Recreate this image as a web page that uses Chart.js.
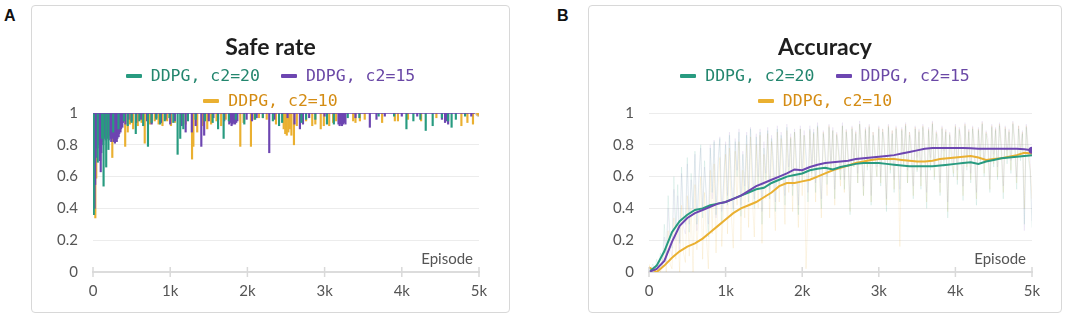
<!DOCTYPE html>
<html>
<head>
<meta charset="utf-8">
<script src="https://cdn.jsdelivr.net/npm/chart.js@4.4.0/dist/chart.umd.min.js"></script>
<style>
  body { margin: 0; background: #fff; width: 1084px; height: 319px; position: relative; overflow: hidden; font-family: Lato, sans-serif; }
  .letter { position: absolute; font: bold 16px "Liberation Sans", Arial, sans-serif; color: #111; }
  .box { position: absolute; top: 5px; height: 308px; border: 1px solid #d8d8d8; border-radius: 4px; box-sizing: border-box; }
  .wrap { position: absolute; top: 5px; height: 308px; }
  .title { position: absolute; left: 0; right: 0; top: 28px; text-align: center; font: bold 23px Lato, sans-serif; line-height: 27px; color: #1e1e1e; }
  .legend { position: absolute; left: 0; right: 0; top: 58px; margin: 0 auto; max-width: 310px; display: flex; flex-wrap: wrap; justify-content: center; column-gap: 21px; }
  .item { display: flex; align-items: center; height: 25px; font: 16.5px "DejaVu Sans Mono", monospace; white-space: pre; }
  .mark { width: 16px; height: 4px; border-radius: 1px; margin-right: 9px; }
</style>
</head>
<body>
<div class="letter" style="left:4px;top:7px">A</div>
<div class="letter" style="left:557px;top:7px">B</div>
<div class="box" style="left:31px;width:479px"></div>
<div class="box" style="left:588px;width:474px"></div>
<div class="wrap" style="left:31px;width:479px"><canvas id="safe"></canvas></div>
<div class="wrap" style="left:588px;width:474px"><canvas id="acc"></canvas></div>
<div class="wrap" style="left:31px;width:479px;pointer-events:none"><div class="title">Safe rate</div><div class="legend" id="legA"></div></div>
<div class="wrap" style="left:588px;width:474px;pointer-events:none"><div class="title">Accuracy</div><div class="legend" id="legB"></div></div>
<script>
// series names and colours
const seriesNames = ['DDPG, c2=20', 'DDPG, c2=15', 'DDPG, c2=10'];
const lineColors = ['#289b80', '#6d46b1', '#eab031'];
const textColors = ['#23866e', '#6a48a6', '#d48c14'];
const rawColors = ['rgba(40,155,128,0.10)', 'rgba(109,70,177,0.08)', 'rgba(234,176,49,0.12)'];

const xTickLabels = ['0', '1k', '2k', '3k', '4k', '5k'];
const yTickLabels = ['0', '0.2', '0.4', '0.6', '0.8', '1'];

// ---- Safe rate: episodes where the rate dropped below 1, and how far ----
const safeEpGreen = [10, 62, 118, 137, 171, 200, 262, 330, 400, 450, 500, 554, 600, 650, 712, 760, 820, 870, 930, 990, 1040, 1096, 1130, 1170, 1230, 1330, 1450, 1550, 1620, 1692, 1760, 1850, 1960, 2100, 2200, 2330, 2410, 2450, 2700, 2760, 2880, 3030, 3120, 3300, 3450, 3700, 3900, 4060, 4150, 4240, 4310, 4400, 4520, 4600, 4645, 4700, 4820];
const safeValGreen = [0.36, 0.69, 0.84, 0.54, 0.66, 0.77, 0.88, 0.90, 0.95, 0.92, 0.94, 0.87, 0.95, 0.92, 0.79, 0.94, 0.96, 0.93, 0.95, 0.97, 0.94, 0.74, 0.84, 0.90, 0.95, 0.96, 0.95, 0.94, 0.90, 0.84, 0.95, 0.96, 0.93, 0.96, 0.97, 0.95, 0.92, 0.94, 0.94, 0.96, 0.96, 0.93, 0.93, 0.97, 0.97, 0.98, 0.98, 0.90, 0.95, 0.96, 0.89, 0.92, 0.97, 0.95, 0.91, 0.96, 0.98];

const safeEpPurple = [20, 28, 36, 44, 52, 60, 68, 76, 84, 92, 100, 108, 116, 124, 132, 140, 148, 156, 164, 172, 180, 188, 196, 204, 212, 220, 228, 236, 244, 252, 260, 268, 276, 284, 292, 300, 308, 316, 324, 332, 340, 348, 356, 364, 372, 380, 388, 396, 420, 460, 500, 560, 620, 700, 760, 820, 880, 940, 1000, 1060, 1150, 1200, 1280, 1330, 1403, 1440, 1500, 1560, 1620, 1700, 1765, 1780, 1795, 1810, 1825, 1840, 1855, 1870, 1990, 2060, 2120, 2283, 2350, 2520, 2610, 2680, 2720, 2800, 3000, 3180, 3195, 3210, 3225, 3240, 3255, 3270, 3400, 3586, 3672, 3780, 4000, 4200, 4520, 4560, 4580, 4600, 4900];
const safeValPurple = [0.40, 0.55, 0.72, 0.78, 0.84, 0.80, 0.86, 0.83, 0.78, 0.70, 0.63, 0.75, 0.82, 0.85, 0.80, 0.84, 0.88, 0.85, 0.83, 0.86, 0.84, 0.87, 0.85, 0.83, 0.86, 0.88, 0.84, 0.82, 0.85, 0.87, 0.84, 0.82, 0.83, 0.81, 0.83, 0.85, 0.82, 0.84, 0.86, 0.85, 0.87, 0.89, 0.88, 0.90, 0.92, 0.91, 0.94, 0.95, 0.93, 0.96, 0.95, 0.94, 0.96, 0.95, 0.93, 0.97, 0.94, 0.96, 0.93, 0.95, 0.92, 0.88, 0.88, 0.92, 0.79, 0.86, 0.95, 0.97, 0.96, 0.95, 0.93, 0.94, 0.92, 0.93, 0.94, 0.93, 0.94, 0.95, 0.96, 0.95, 0.97, 0.75, 0.96, 0.97, 0.93, 0.90, 0.93, 0.97, 0.98, 0.93, 0.92, 0.93, 0.92, 0.93, 0.94, 0.93, 0.97, 0.91, 0.96, 0.98, 0.98, 0.98, 0.96, 0.94, 0.95, 0.93, 0.98];

const safeEpYellow = [30, 42, 80, 120, 180, 250, 300, 340, 417, 450, 480, 520, 580, 630, 670, 740, 800, 850, 900, 960, 1010, 1060, 1150, 1200, 1283, 1300, 1350, 1420, 1480, 1530, 1600, 1660, 1720, 1908, 1950, 2046, 2090, 2150, 2200, 2250, 2370, 2470, 2490, 2510, 2530, 2550, 2570, 2603, 2640, 2760, 2840, 2880, 2950, 2990, 3060, 3110, 3150, 3370, 3400, 3457, 3520, 3745, 3910, 3950, 4080, 4250, 4448, 4580, 4772, 4850, 4922];
const safeValYellow = [0.34, 0.59, 0.90, 0.92, 0.88, 0.72, 0.85, 0.90, 0.79, 0.88, 0.93, 0.90, 0.92, 0.94, 0.81, 0.93, 0.95, 0.93, 0.92, 0.95, 0.92, 0.94, 0.96, 0.93, 0.71, 0.79, 0.88, 0.92, 0.90, 0.93, 0.95, 0.92, 0.96, 0.79, 0.94, 0.79, 0.96, 0.97, 0.97, 0.96, 0.93, 0.90, 0.87, 0.86, 0.88, 0.90, 0.86, 0.80, 0.92, 0.95, 0.92, 0.93, 0.90, 0.92, 0.92, 0.94, 0.95, 0.95, 0.94, 0.95, 0.96, 0.94, 0.95, 0.95, 0.96, 0.95, 0.97, 0.97, 0.92, 0.94, 0.93];

const safeBaseEp = [0, 5000];
const safeBaseVal = [1, 1];

// ---- Accuracy: smoothed curves ----
const accEp = [0, 100, 200, 300, 400, 500, 600, 700, 800, 900, 1000, 1100, 1200, 1300, 1400, 1500, 1600, 1700, 1800, 1900, 2000, 2100, 2200, 2300, 2400, 2500, 2600, 2700, 2800, 2900, 3000, 3100, 3200, 3300, 3400, 3500, 3600, 3700, 3800, 3900, 4000, 4100, 4200, 4300, 4400, 4500, 4600, 4700, 4800, 4900, 5000];
const accGreen = [0.00, 0.04, 0.13, 0.25, 0.32, 0.36, 0.39, 0.40, 0.42, 0.43, 0.44, 0.46, 0.48, 0.50, 0.52, 0.53, 0.56, 0.58, 0.60, 0.61, 0.62, 0.64, 0.65, 0.655, 0.645, 0.66, 0.67, 0.68, 0.685, 0.685, 0.685, 0.68, 0.675, 0.67, 0.665, 0.665, 0.665, 0.665, 0.67, 0.675, 0.68, 0.685, 0.69, 0.68, 0.695, 0.705, 0.715, 0.72, 0.725, 0.73, 0.735];
const accPurple = [0.00, 0.02, 0.07, 0.19, 0.29, 0.34, 0.37, 0.39, 0.41, 0.43, 0.44, 0.46, 0.48, 0.51, 0.54, 0.56, 0.58, 0.60, 0.62, 0.645, 0.64, 0.66, 0.675, 0.685, 0.69, 0.695, 0.70, 0.71, 0.715, 0.72, 0.725, 0.73, 0.735, 0.745, 0.755, 0.765, 0.775, 0.78, 0.78, 0.78, 0.78, 0.78, 0.778, 0.775, 0.775, 0.775, 0.775, 0.775, 0.775, 0.772, 0.765];
const accYellow = [0.03, 0.00, 0.04, 0.09, 0.13, 0.16, 0.18, 0.21, 0.25, 0.29, 0.33, 0.37, 0.40, 0.42, 0.44, 0.47, 0.50, 0.54, 0.56, 0.56, 0.57, 0.58, 0.60, 0.62, 0.64, 0.655, 0.67, 0.685, 0.695, 0.705, 0.71, 0.71, 0.71, 0.705, 0.70, 0.695, 0.695, 0.70, 0.71, 0.715, 0.72, 0.725, 0.73, 0.72, 0.705, 0.71, 0.715, 0.725, 0.735, 0.75, 0.745];

// ---- Accuracy: raw (unsmoothed) runs, drawn faint ----
const rawEp = [0, 25, 50, 75, 100, 125, 150, 175, 200, 225, 250, 275, 300, 325, 350, 375, 400, 425, 450, 475, 500, 525, 550, 575, 600, 625, 650, 675, 700, 725, 750, 775, 800, 825, 850, 875, 900, 925, 950, 975, 1000, 1025, 1050, 1075, 1100, 1125, 1150, 1175, 1200, 1225, 1250, 1275, 1300, 1325, 1350, 1375, 1400, 1425, 1450, 1475, 1500, 1525, 1550, 1575, 1600, 1625, 1650, 1675, 1700, 1725, 1750, 1775, 1800, 1825, 1850, 1875, 1900, 1925, 1950, 1975, 2000, 2025, 2050, 2075, 2100, 2125, 2150, 2175, 2200, 2225, 2250, 2275, 2300, 2325, 2350, 2375, 2400, 2425, 2450, 2475, 2500, 2525, 2550, 2575, 2600, 2625, 2650, 2675, 2700, 2725, 2750, 2775, 2800, 2825, 2850, 2875, 2900, 2925, 2950, 2975, 3000, 3025, 3050, 3075, 3100, 3125, 3150, 3175, 3200, 3225, 3250, 3275, 3300, 3325, 3350, 3375, 3400, 3425, 3450, 3475, 3500, 3525, 3550, 3575, 3600, 3625, 3650, 3675, 3700, 3725, 3750, 3775, 3800, 3825, 3850, 3875, 3900, 3925, 3950, 3975, 4000, 4025, 4050, 4075, 4100, 4125, 4150, 4175, 4200, 4225, 4250, 4275, 4300, 4325, 4350, 4375, 4400, 4425, 4450, 4475, 4500, 4525, 4550, 4575, 4600, 4625, 4650, 4675, 4700, 4725, 4750, 4775, 4800, 4825, 4850, 4875, 4900, 4925, 4950, 4975, 5000];
const rawGreen = [0.00, 0.02, 0.05, 0.01, 0.08, 0.03, 0.12, 0.05, 0.30,
  0.10, 0.48, 0.22, 0.15, 0.60, 0.28, 0.55, 0.18, 0.66, 0.35, 0.30, 0.72,
  0.25, 0.62, 0.40, 0.76, 0.30, 0.55, 0.80, 0.34, 0.70, 0.45, 0.22, 0.78, 0.50, 0.82, 0.36, 0.65, 0.84, 0.30, 0.58, 0.80,
  0.42, 0.86, 0.55, 0.38, 0.82, 0.60, 0.88, 0.35, 0.74, 0.50, 0.86, 0.44, 0.90, 0.62, 0.40, 0.85, 0.52, 0.88, 0.30, 0.78,
  0.58, 0.89, 0.46, 0.84, 0.66, 0.38, 0.90, 0.55, 0.86, 0.70, 0.42, 0.91, 0.60, 0.84, 0.48, 0.88, 0.68, 0.36, 0.90, 0.57,
  0.86, 0.72, 0.44, 0.90, 0.62, 0.88, 0.50, 0.92, 0.66, 0.40, 0.87, 0.74, 0.55, 0.91, 0.64, 0.89, 0.46, 0.86, 0.76, 0.58,
  0.92, 0.52, 0.88, 0.70, 0.36, 0.90, 0.66, 0.87, 0.56, 0.93, 0.74, 0.48, 0.89, 0.64, 0.91, 0.42, 0.86, 0.72, 0.60, 0.90,
  0.54, 0.88, 0.76, 0.38, 0.91, 0.62, 0.87, 0.50, 0.90, 0.70, 0.44, 0.89, 0.66, 0.92, 0.56, 0.86, 0.74, 0.46, 0.90, 0.63,
  0.88, 0.52, 0.91, 0.72, 0.40, 0.89, 0.64, 0.93, 0.58, 0.87, 0.75, 0.48, 0.90, 0.66, 0.88, 0.34, 0.86, 0.70, 0.60, 0.91,
  0.55, 0.89, 0.77, 0.45, 0.92, 0.64, 0.88, 0.56, 0.90, 0.72, 0.42, 0.89, 0.68, 0.93, 0.60, 0.87, 0.76, 0.50, 0.91, 0.66,
  0.89, 0.58, 0.92, 0.74, 0.46, 0.90, 0.68, 0.88, 0.62, 0.93, 0.78, 0.52, 0.90, 0.70, 0.87, 0.30, 0.91, 0.72, 0.64, 0.28, 0.83];
const rawPurple = [0.00, 0.01, 0.03, 0.00, 0.05, 0.02, 0.08, 0.03, 0.22,
  0.06, 0.40, 0.15, 0.10, 0.52, 0.20, 0.48, 0.12, 0.62, 0.28, 0.24, 0.68,
  0.30, 0.58, 0.36, 0.74, 0.26, 0.60, 0.78, 0.40, 0.66, 0.48, 0.30, 0.80, 0.46, 0.83, 0.34, 0.70, 0.85, 0.38, 0.56, 0.82,
  0.48, 0.88, 0.58, 0.40, 0.84, 0.64, 0.90, 0.42, 0.76, 0.54, 0.88, 0.50, 0.91, 0.66, 0.46, 0.87, 0.60, 0.90, 0.38, 0.82,
  0.62, 0.91, 0.52, 0.86, 0.70, 0.44, 0.92, 0.60, 0.88, 0.74, 0.48, 0.93, 0.66, 0.87, 0.54, 0.90, 0.72, 0.42, 0.92, 0.62,
  0.89, 0.76, 0.50, 0.92, 0.68, 0.90, 0.56, 0.94, 0.72, 0.46, 0.89, 0.78, 0.60, 0.93, 0.70, 0.91, 0.52, 0.88, 0.80, 0.64,
  0.94, 0.58, 0.90, 0.76, 0.44, 0.92, 0.72, 0.89, 0.62, 0.95, 0.80, 0.54, 0.91, 0.70, 0.93, 0.48, 0.88, 0.78, 0.66, 0.92,
  0.60, 0.90, 0.82, 0.46, 0.93, 0.70, 0.89, 0.58, 0.92, 0.78, 0.52, 0.91, 0.74, 0.94, 0.64, 0.88, 0.82, 0.54, 0.92, 0.72,
  0.90, 0.60, 0.93, 0.80, 0.50, 0.91, 0.72, 0.95, 0.66, 0.89, 0.84, 0.56, 0.92, 0.76, 0.90, 0.44, 0.88, 0.80, 0.68, 0.93,
  0.64, 0.91, 0.84, 0.54, 0.94, 0.72, 0.90, 0.62, 0.92, 0.80, 0.50, 0.91, 0.76, 0.95, 0.68, 0.89, 0.84, 0.58, 0.93, 0.74,
  0.91, 0.66, 0.94, 0.82, 0.54, 0.92, 0.76, 0.90, 0.70, 0.95, 0.84, 0.60, 0.92, 0.78, 0.89, 0.26, 0.93, 0.80, 0.70, 0.32, 0.86];
const rawYellow = [0.05, 0.01, 0.00, 0.02, 0.00, 0.04, 0.00, 0.06, 0.15,
  0.00, 0.26, 0.05, 0.02, 0.34, 0.08, 0.30, 0.00, 0.42, 0.12, 0.06, 0.48,
  0.10, 0.40, 0.00, 0.55, 0.14, 0.36, 0.60, 0.08, 0.50, 0.22, 0.02, 0.64, 0.24, 0.68, 0.12, 0.52, 0.72, 0.16, 0.44, 0.74,
  0.24, 0.78, 0.36, 0.15, 0.76, 0.42, 0.82, 0.20, 0.64, 0.34, 0.80, 0.28, 0.85, 0.46, 0.22, 0.80, 0.40, 0.86, 0.18, 0.74,
  0.46, 0.87, 0.34, 0.82, 0.54, 0.26, 0.88, 0.44, 0.84, 0.60, 0.30, 0.89, 0.50, 0.85, 0.38, 0.88, 0.58, 0.28, 0.90, 0.48,
  0.86, 0.02, 0.40, 0.89, 0.58, 0.87, 0.44, 0.91, 0.62, 0.34, 0.88, 0.70, 0.48, 0.92, 0.64, 0.89, 0.42, 0.87, 0.74, 0.54,
  0.92, 0.50, 0.89, 0.70, 0.38, 0.91, 0.66, 0.88, 0.56, 0.93, 0.76, 0.48, 0.90, 0.66, 0.92, 0.44, 0.88, 0.74, 0.60, 0.91,
  0.56, 0.90, 0.78, 0.42, 0.92, 0.64, 0.89, 0.52, 0.91, 0.74, 0.16, 0.90, 0.68, 0.93, 0.56, 0.88, 0.76, 0.48, 0.91, 0.64,
  0.89, 0.54, 0.92, 0.76, 0.44, 0.90, 0.66, 0.94, 0.60, 0.88, 0.78, 0.50, 0.91, 0.70, 0.89, 0.38, 0.87, 0.74, 0.62, 0.92,
  0.58, 0.90, 0.80, 0.48, 0.93, 0.66, 0.89, 0.58, 0.91, 0.76, 0.46, 0.90, 0.70, 0.94, 0.62, 0.88, 0.80, 0.52, 0.92, 0.68,
  0.90, 0.60, 0.93, 0.78, 0.50, 0.91, 0.72, 0.89, 0.64, 0.94, 0.80, 0.56, 0.92, 0.74, 0.88, 0.40, 0.92, 0.76, 0.66, 0.46, 0.84];

Chart.defaults.font.family = 'Lato, sans-serif';
Chart.defaults.animation = false;

function pairs(xs, ys) {
  return xs.map((x, i) => ({ x: x, y: ys[i] }));
}
function dips(xs, ys) {
  return xs.map((x, i) => ({ x: x, y: [ys[i], 1] }));
}

// axis tick marks that cross the x axis + "Episode" label in the corner
const axisDecor = {
  id: 'axisDecor',
  afterDraw(chart) {
    const ctx = chart.ctx;
    const area = chart.chartArea;
    const x = chart.scales.x;
    ctx.save();
    ctx.strokeStyle = '#d9d9d9';
    ctx.lineWidth = 1.5;
    x.ticks.forEach(t => {
      const px = x.getPixelForValue(t.value);
      ctx.beginPath();
      ctx.moveTo(px, area.bottom - 5);
      ctx.lineTo(px, area.bottom + 5);
      ctx.stroke();
    });
    ctx.font = '15px Lato';
    ctx.fillStyle = '#555';
    ctx.textAlign = 'right';
    ctx.textBaseline = 'middle';
    ctx.fillText('Episode', area.right - 6, area.bottom - 13);
    ctx.restore();
  }
};

function scalesFor(yWidth) {
  return {
    x: {
      type: 'linear', min: 0, max: 5000, offset: false,
      grid: { display: false, drawTicks: false },
      border: { display: true, color: '#dcdcdc', width: 2 },
      ticks: { stepSize: 1000, padding: 10, color: '#555', font: { size: 15 }, maxRotation: 0,
        callback: v => xTickLabels[Math.round(v / 1000)] },
      afterFit: axis => { axis.height = 41; }
    },
    y: {
      min: 0, max: 1, stacked: false,
      grid: { color: '#ececec', lineWidth: 1, drawTicks: false },
      border: { display: false },
      ticks: { stepSize: 0.2, padding: 15, color: '#555', font: { size: 15 },
        callback: v => yTickLabels[Math.round(v * 5)] },
      afterFit: axis => { axis.width = yWidth; }
    }
  };
}

function buildLegend(id) {
  const el = document.getElementById(id);
  seriesNames.forEach((name, i) => {
    const item = document.createElement('div');
    item.className = 'item';
    item.style.color = textColors[i];
    const m = document.createElement('span');
    m.className = 'mark';
    m.style.background = lineColors[i];
    item.appendChild(m);
    item.appendChild(document.createTextNode(name));
    el.appendChild(item);
  });
}
buildLegend('legA');
buildLegend('legB');

// Safe rate: every dip is a thin floating bar hanging from 1
// draw order: green on top, then purple, yellow underneath
const dipStyle = { barThickness: 1.5, maxBarThickness: 1.5, borderWidth: 0, borderSkipped: false, stack: 'dip' };
new Chart(document.getElementById('safe'), {
  type: 'bar',
  data: {
    datasets: [
      { type: 'line', data: pairs(safeBaseEp, safeBaseVal), borderColor: lineColors[1], borderWidth: 1.5,
        pointRadius: [0, 3.5], pointBackgroundColor: lineColors[2], pointBorderColor: '#c9c9c9', pointBorderWidth: 1, order: 0 },
      Object.assign({ label: seriesNames[0], data: dips(safeEpGreen, safeValGreen), backgroundColor: lineColors[0], order: 1 }, dipStyle),
      Object.assign({ label: seriesNames[1], data: dips(safeEpPurple, safeValPurple), backgroundColor: lineColors[1], order: 2 }, dipStyle),
      Object.assign({ label: seriesNames[2], data: dips(safeEpYellow, safeValYellow), backgroundColor: lineColors[2], order: 3 }, dipStyle)
    ]
  },
  options: {
    responsive: true, maintainAspectRatio: false,
    layout: { padding: { top: 108, right: 31, left: 0, bottom: 0 } },
    plugins: { legend: { display: false }, tooltip: { enabled: false } },
    scales: scalesFor(62)
  },
  plugins: [axisDecor]
});

// Accuracy
const accSets = [];
[accGreen, accPurple, accYellow].forEach((s, i) => {
  accSets.push({ data: pairs(accEp, s), borderColor: lineColors[i], borderWidth: 2, tension: 0,
    pointRadius: i === 1 ? accEp.map((e, k) => k === accEp.length - 1 ? 3.5 : 0) : 0,
    pointBackgroundColor: lineColors[i], pointBorderWidth: 0, order: i === 1 ? 0 : (i === 0 ? 1 : 2) });
});
[rawGreen, rawPurple, rawYellow].forEach((s, i) => {
  accSets.push({ data: pairs(rawEp, s), borderColor: rawColors[i], borderWidth: 1, pointRadius: 0, order: 4 + i });
});

new Chart(document.getElementById('acc'), {
  type: 'line',
  data: { datasets: accSets },
  options: {
    responsive: true, maintainAspectRatio: false,
    layout: { padding: { top: 108, right: 30, left: 0, bottom: 0 } },
    plugins: { legend: { display: false }, tooltip: { enabled: false } },
    scales: scalesFor(61)
  },
  plugins: [axisDecor]
});
</script>
</body>
</html>
